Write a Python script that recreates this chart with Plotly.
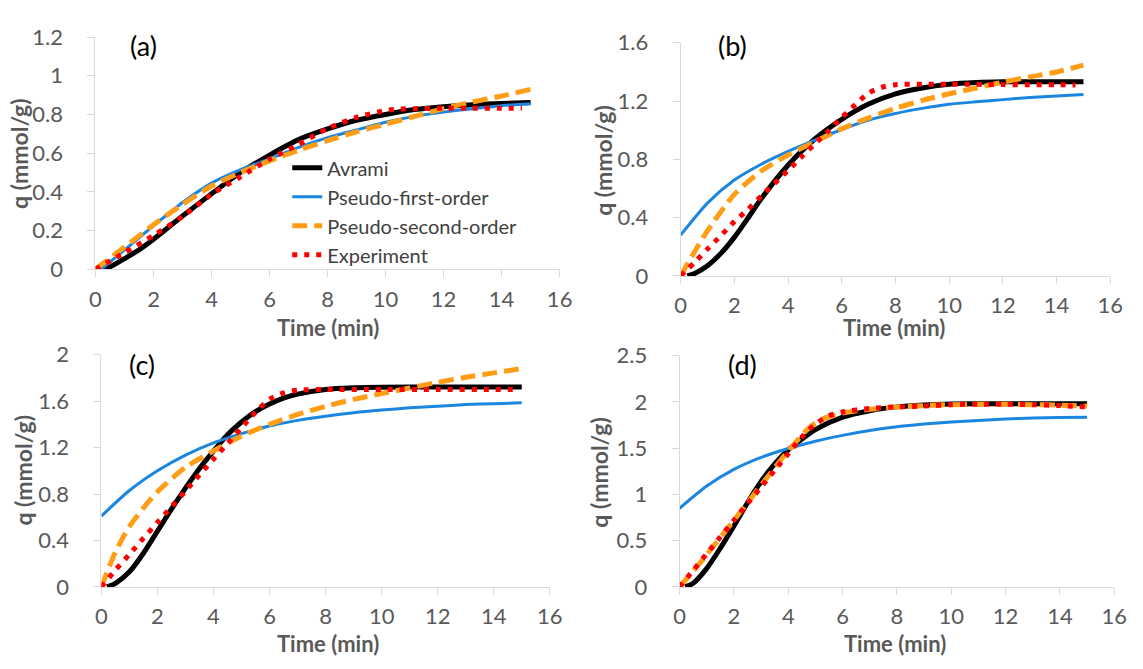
import plotly.graph_objects as go

# ---------------- data ----------------
series_names = ["Avrami", "Pseudo-first-order", "Pseudo-second-order", "Experiment"]
panel_labels = ["(a)", "(b)", "(c)", "(d)"]
x_title = "Time (min)"
y_title = "q (mmol/g)"

# Panel (a)
a_avrami_t = [0.25, 0.5, 1, 1.5, 2, 3, 4, 5, 6, 7, 8, 9, 10, 11, 12, 13, 14, 15]
a_avrami_q = [0, 0.012, 0.055, 0.10, 0.155, 0.275, 0.39, 0.50, 0.59, 0.67, 0.725, 0.77, 0.80, 0.825, 0.84, 0.85, 0.857, 0.862]
a_pfo_t = [0.2, 1, 2, 3, 4, 5, 6, 7, 8, 9, 10, 11, 12, 13, 14, 15]
a_pfo_q = [0, 0.10, 0.225, 0.345, 0.445, 0.515, 0.57, 0.63, 0.68, 0.72, 0.76, 0.79, 0.812, 0.83, 0.845, 0.855]
a_pso_t = [0, 1, 2, 3, 4, 5, 6, 7, 8, 9, 10, 11, 12, 13, 14, 15]
a_pso_q = [0, 0.115, 0.23, 0.335, 0.43, 0.50, 0.56, 0.615, 0.665, 0.71, 0.75, 0.79, 0.83, 0.865, 0.895, 0.93]
a_exp_t = [0, 1, 2, 3, 4, 5, 6, 7, 8, 9, 10, 10.5, 11, 12, 13, 14, 14.7]
a_exp_q = [0, 0.086, 0.175, 0.272, 0.387, 0.478, 0.569, 0.645, 0.727, 0.785, 0.82, 0.828, 0.83, 0.832, 0.832, 0.832, 0.832]

# Panel (b)
b_avrami_t = [0.25, 0.5, 1, 1.5, 2, 2.5, 3, 4, 5, 6, 7, 8, 9, 10, 11, 12, 13, 14, 15]
b_avrami_q = [0, 0.015, 0.07, 0.155, 0.265, 0.395, 0.53, 0.76, 0.94, 1.075, 1.18, 1.25, 1.29, 1.315, 1.327, 1.332, 1.333, 1.333, 1.333]
b_pfo_t = [0, 1, 2, 3, 4, 5, 6, 7, 8, 9, 10, 11, 12, 13, 14, 15]
b_pfo_q = [0.28, 0.50, 0.658, 0.767, 0.855, 0.932, 1.005, 1.07, 1.115, 1.15, 1.178, 1.195, 1.21, 1.224, 1.235, 1.246]
b_pso_t = [0, 0.5, 1, 2, 3, 4, 5, 6, 7, 8, 9, 10, 11, 12, 13, 14, 15]
b_pso_q = [0, 0.16, 0.31, 0.56, 0.72, 0.83, 0.92, 1.01, 1.085, 1.15, 1.205, 1.25, 1.29, 1.33, 1.366, 1.40, 1.447]
b_exp_t = [0, 0.5, 1, 1.5, 2, 2.5, 3, 3.5, 4, 4.5, 5, 5.5, 6, 6.5, 7, 7.5, 8, 9, 10, 11, 12, 13, 14, 14.7]
b_exp_q = [0, 0.09, 0.185, 0.277, 0.373, 0.455, 0.548, 0.635, 0.725, 0.817, 0.907, 0.994, 1.088, 1.175, 1.255, 1.295, 1.312, 1.316, 1.316, 1.315, 1.313, 1.312, 1.312, 1.311]

# Panel (c)
c_avrami_t = [0.2, 0.5, 1, 1.5, 2, 2.5, 3, 3.5, 4, 4.5, 5, 5.5, 6, 6.5, 7, 8, 9, 10, 12, 15]
c_avrami_q = [0, 0.03, 0.13, 0.29, 0.48, 0.67, 0.85, 1.02, 1.17, 1.31, 1.42, 1.51, 1.575, 1.625, 1.66, 1.70, 1.715, 1.72, 1.722, 1.722]
c_pfo_t = [0, 1, 2, 3, 4, 5, 6, 7, 8, 9, 10, 11, 12, 13, 14, 15]
c_pfo_q = [0.61, 0.83, 1.0, 1.135, 1.24, 1.32, 1.385, 1.434, 1.47, 1.50, 1.523, 1.542, 1.556, 1.57, 1.578, 1.586]
c_pso_t = [0, 0.5, 1, 1.5, 2, 3, 4, 5, 6, 7, 8, 9, 10, 11, 12, 13, 14, 15]
c_pso_q = [0, 0.30, 0.52, 0.68, 0.82, 1.03, 1.17, 1.30, 1.40, 1.485, 1.555, 1.615, 1.665, 1.713, 1.762, 1.805, 1.843, 1.88]
c_exp_t = [0, 0.5, 1, 1.5, 2, 2.5, 3, 3.5, 4, 4.5, 5, 5.5, 6, 6.5, 7, 8, 10, 12, 14, 14.7]
c_exp_q = [0, 0.145, 0.28, 0.42, 0.555, 0.69, 0.825, 0.965, 1.10, 1.235, 1.37, 1.505, 1.615, 1.67, 1.695, 1.70, 1.70, 1.70, 1.70, 1.70]

# Panel (d)
d_avrami_t = [0.2, 0.5, 1, 1.5, 2, 2.5, 3, 3.5, 4, 5, 6, 7, 8, 9, 10, 11, 12, 13, 14, 15]
d_avrami_q = [0, 0.04, 0.20, 0.42, 0.66, 0.91, 1.14, 1.33, 1.48, 1.70, 1.835, 1.905, 1.946, 1.967, 1.978, 1.98, 1.98, 1.98, 1.98, 1.98]
d_pfo_t = [0, 1, 2, 3, 4, 5, 6, 7, 8, 9, 10, 11, 12, 13, 14, 15]
d_pfo_q = [0.85, 1.09, 1.27, 1.40, 1.496, 1.575, 1.638, 1.69, 1.73, 1.76, 1.783, 1.80, 1.814, 1.825, 1.832, 1.835]
d_pso_t = [0, 0.5, 1, 2, 3, 4, 4.8, 5.3, 6, 7, 8, 9, 10, 11, 12, 13, 14, 15]
d_pso_q = [0, 0.17, 0.35, 0.72, 1.10, 1.47, 1.73, 1.82, 1.88, 1.92, 1.945, 1.96, 1.97, 1.975, 1.975, 1.97, 1.965, 1.955]
d_exp_t = [0, 0.5, 1, 1.5, 2, 2.5, 3, 3.5, 4, 4.5, 5, 5.5, 6, 7, 8, 9, 10, 11, 12, 13, 14, 15]
d_exp_q = [0, 0.18, 0.36, 0.54, 0.72, 0.90, 1.08, 1.26, 1.44, 1.62, 1.76, 1.85, 1.89, 1.93, 1.945, 1.955, 1.97, 1.975, 1.975, 1.97, 1.96, 1.945]

x_ticks = [0, 2, 4, 6, 8, 10, 12, 14, 16]
y_ranges = [[0, 1.2], [0, 1.6], [0, 2.0], [0, 2.5]]
y_dticks = [0.2, 0.4, 0.4, 0.5]

panels = [
    [(a_avrami_t, a_avrami_q), (a_pfo_t, a_pfo_q), (a_pso_t, a_pso_q), (a_exp_t, a_exp_q)],
    [(b_avrami_t, b_avrami_q), (b_pfo_t, b_pfo_q), (b_pso_t, b_pso_q), (b_exp_t, b_exp_q)],
    [(c_avrami_t, c_avrami_q), (c_pfo_t, c_pfo_q), (c_pso_t, c_pso_q), (c_exp_t, c_exp_q)],
    [(d_avrami_t, d_avrami_q), (d_pfo_t, d_pfo_q), (d_pso_t, d_pso_q), (d_exp_t, d_exp_q)],
]

# ---------------- styling ----------------
W, H = 1143, 669
FONT = "Lato"
TICK_COL = "#595959"
AX_COL = "#d9d9d9"

line_styles = [
    dict(color="#000000", width=5),
    dict(color="#1A86E0", width=3),
    dict(color="#FF9E16", width=5, dash="15px,7px"),
    dict(color="#FF0000", width=5, dash="5px,7px"),
]

# plot areas in pixels: (x0, x1, ytop, ybottom)
boxes = [
    (91, 563, 24, 266),
    (686, 1123, 30, 273),
    (97, 553, 355, 597),
    (685, 1127, 356, 597),
]

fig = go.Figure()
layout = dict(
    width=W, height=H,
    margin=dict(l=0, r=0, t=0, b=0),
    paper_bgcolor="white", plot_bgcolor="white",
    font=dict(family=FONT, color=TICK_COL),
    showlegend=True,
)

annotations = []
for i, (series, box) in enumerate(zip(panels, boxes)):
    suffix = "" if i == 0 else str(i + 1)
    x0, x1, yt, yb = box
    for j, (tt, qq) in enumerate(series):
        fig.add_trace(go.Scatter(
            x=tt, y=qq, mode="lines", name=series_names[j],
            line=dict(shape="spline", smoothing=0.7, **line_styles[j]),
            xaxis="x" + suffix, yaxis="y" + suffix,
            showlegend=(i == 0), hoverinfo="skip",
        ))
    common = dict(showline=True, linecolor=AX_COL, linewidth=1, ticks="outside",
                  tickcolor=AX_COL, ticklen=7, showgrid=False, zeroline=False,
                  tickfont=dict(family=FONT, size=22, color=TICK_COL))
    layout["xaxis" + suffix] = dict(
        domain=[x0 / W, x1 / W], range=[0, 16], tickvals=x_ticks,
        anchor="y" + suffix, ticklabelstandoff=3, **common)
    layout["yaxis" + suffix] = dict(
        domain=[1 - yb / H, 1 - yt / H], range=y_ranges[i], dtick=y_dticks[i],
        tick0=0, anchor="x" + suffix, ticklabelstandoff=20, **common)

    # panel label
    annotations.append(dict(
        text=panel_labels[i], xref="paper", yref="paper",
        x=[140, 739, 138, 749][i] / W, y=1 - [33, 33, 365, 365][i] / H,
        xanchor="center", yanchor="middle", showarrow=False,
        font=dict(family=FONT, size=27, color="#000000")))
    # axis titles
    annotations.append(dict(
        text="<b>%s</b>" % x_title, xref="paper", yref="paper",
        x=[327, 903, 327, 904][i] / W, y=1 - [327, 327, 656, 656][i] / H,
        xanchor="center", yanchor="middle", showarrow=False,
        font=dict(family=FONT, size=22, color=TICK_COL)))
    annotations.append(dict(
        text="<b>%s</b>" % y_title, xref="paper", yref="paper",
        x=[13, 607, 17, 603][i] / W, y=1 - [145, 152, 475, 477][i] / H,
        xanchor="center", yanchor="middle", showarrow=False, textangle=-90,
        font=dict(family=FONT, size=23, color=TICK_COL)))

layout["annotations"] = annotations
layout["legend"] = dict(
    x=286 / W, y=1 - 140 / H, xanchor="left", yanchor="top",
    bgcolor="rgba(0,0,0,0)", font=dict(family=FONT, size=20, color="#404040"),
    itemwidth=30, tracegroupgap=0,
)
fig.update_layout(**layout)
fig.write_html("out.html")
